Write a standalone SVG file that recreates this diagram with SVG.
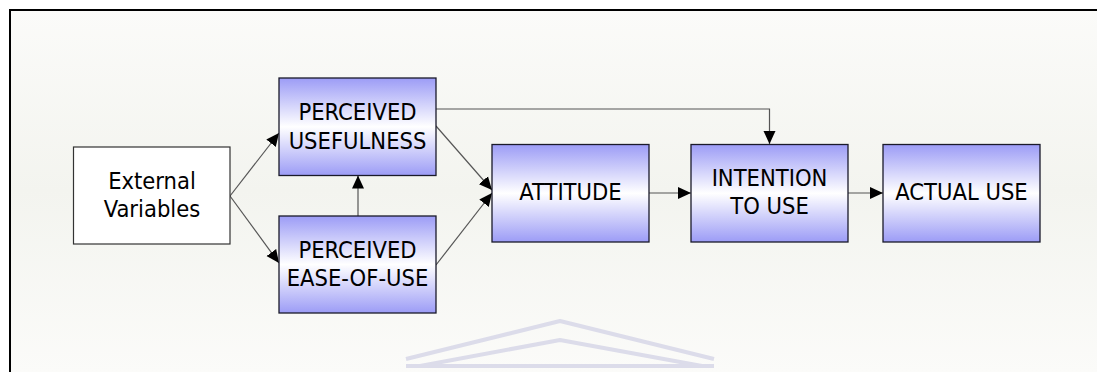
<svg xmlns="http://www.w3.org/2000/svg" width="1097" height="372" viewBox="0 0 1097 372">
<defs>
<linearGradient id="bg" x1="0" y1="0" x2="0" y2="1">
<stop offset="0" stop-color="#fbfbf9"/>
<stop offset="0.5" stop-color="#f3f4ef"/>
<stop offset="1" stop-color="#fbfbf9"/>
</linearGradient>
<linearGradient id="blue" x1="0" y1="0" x2="0" y2="1">
<stop offset="0" stop-color="#9c9cf6"/>
<stop offset="0.5" stop-color="#ffffff"/>
<stop offset="1" stop-color="#9c9cf6"/>
</linearGradient>
<marker id="arr" markerUnits="userSpaceOnUse" markerWidth="14" markerHeight="14" refX="13" refY="7" orient="auto">
<path d="M0,1 L13,7 L0,13 z" fill="#000"/>
</marker>
<style>
.box{fill:url(#blue);stroke:#1a1a2a;stroke-width:1.3}
.plain{fill:#fff;stroke:#333;stroke-width:1.2}
.t{font-family:"DejaVu Sans Condensed","Liberation Sans",sans-serif;font-size:23.5px;fill:#000;text-anchor:middle}
.c{fill:none;stroke:#555;stroke-width:1.2;marker-end:url(#arr)}
.wm{fill:none;stroke:#dcdcea;stroke-width:4;stroke-linejoin:round}
</style>
</defs>
<rect x="0" y="0" width="1097" height="372" fill="#fff"/>
<rect x="10" y="10" width="1087" height="362" fill="url(#bg)"/>
<path d="M10,372 V10 H1097" fill="none" stroke="#000" stroke-width="2"/>
<g id="watermark">
<polyline class="wm" points="406,359 560,321 714,359"/>
<polyline class="wm" points="420,366 560,340 702,366"/>
<line class="wm" x1="406" y1="366" x2="714" y2="366"/>
</g>
<g id="connectors">
<path class="c" d="M230,196 L279,133"/>
<path class="c" d="M230,196 L279,263"/>
<path class="c" d="M358,216 L358,175.5"/>
<path class="c" d="M436,126 L492,190"/>
<path class="c" d="M436,265 L492,193"/>
<path class="c" d="M436,109 H769.5 V144"/>
<path class="c" d="M649,193 H691"/>
<path class="c" d="M848,193 H883"/>
</g>
<g id="external">
<rect class="plain" x="73.5" y="147" width="156.5" height="97"/>
<text class="t" x="152" y="189">External</text>
<text class="t" x="152" y="217">Variables</text>
</g>
<g id="pu">
<rect class="box" x="279" y="78" width="157" height="97.5"/>
<text class="t" x="357.5" y="120">PERCEIVED</text>
<text class="t" x="357.5" y="149">USEFULNESS</text>
</g>
<g id="peou">
<rect class="box" x="279" y="216" width="157" height="97"/>
<text class="t" x="357.5" y="258">PERCEIVED</text>
<text class="t" x="357.5" y="286">EASE-OF-USE</text>
</g>
<g id="attitude">
<rect class="box" x="492" y="144.5" width="157" height="97.5"/>
<text class="t" x="570.5" y="200">ATTITUDE</text>
</g>
<g id="intention">
<rect class="box" x="691" y="144.5" width="157" height="97.5"/>
<text class="t" x="769.5" y="186">INTENTION</text>
<text class="t" x="769.5" y="214">TO USE</text>
</g>
<g id="actual">
<rect class="box" x="883" y="144.5" width="157" height="97.5"/>
<text class="t" x="961.5" y="200">ACTUAL USE</text>
</g>
</svg>
